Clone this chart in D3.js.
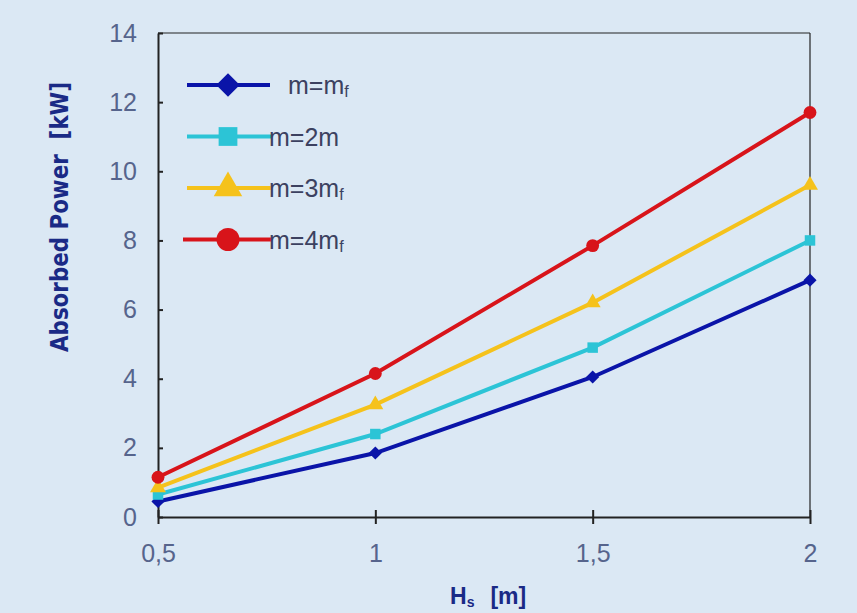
<!DOCTYPE html>
<html>
<head>
<meta charset="utf-8">
<script src="https://cdn.jsdelivr.net/npm/d3@7"></script>
<style>
  body { margin: 0; background: #dbe8f4; }
  svg { display: block; }
</style>
</head>
<body>
<div id="chart"></div>
<script>
// donnees
const hs = [0.5, 1, 1.5, 2];
const mF = [0.45, 1.85, 4.05, 6.85];
const m2 = [0.65, 2.4, 4.9, 8.0];
const m3 = [0.85, 3.25, 6.2, 9.6];
const m4 = [1.15, 4.15, 7.85, 11.7];
const yTicks = [0, 2, 4, 6, 8, 10, 12, 14];
const xTickLabels = ["0,5", "1", "1,5", "2"];

const series = [
  { name: "m=m", sub: "f", values: mF, color: "#0a14a8", shape: d3.symbolDiamond2, size: 110 },
  { name: "m=2m", sub: "", values: m2, color: "#2cc4d6", shape: d3.symbolSquare, size: 110 },
  { name: "m=3m", sub: "f", values: m3, color: "#f5c21b", shape: d3.symbolTriangle, size: 110 },
  { name: "m=4m", sub: "f", values: m4, color: "#d8141a", shape: d3.symbolCircle, size: 130 }
];

const W = 857, H = 613;
const margin = { top: 33, right: 47, bottom: 96, left: 158 };
const width = W - margin.left - margin.right;
const height = H - margin.top - margin.bottom;

const svg = d3.select("#chart").append("svg")
  .attr("width", W).attr("height", H);

svg.append("rect").attr("width", W).attr("height", H).attr("fill", "#dbe8f4");

const g = svg.append("g")
  .attr("transform", `translate(${margin.left},${margin.top})`);

const x = d3.scaleLinear().domain([0.5, 2]).range([0, width]);
const y = d3.scaleLinear().domain([0, 14]).range([height, 0]);

// cadre haut et droite
g.append("line").attr("x1", 0).attr("x2", width).attr("y1", 0).attr("y2", 0)
  .attr("stroke", "#222").attr("stroke-width", 1.2);
g.append("line").attr("x1", width).attr("x2", width).attr("y1", 0).attr("y2", height)
  .attr("stroke", "#222").attr("stroke-width", 1.2);

// axes
const xAxis = g.append("g")
  .attr("transform", `translate(0,${height})`)
  .call(d3.axisBottom(x).tickValues(hs).tickFormat((d, i) => xTickLabels[i])
    .tickSizeInner(7).tickSizeOuter(0).tickPadding(20));
xAxis.selectAll(".tick line").attr("y1", -7);

const yAxis = g.append("g")
  .call(d3.axisLeft(y).tickValues(yTicks).tickSizeInner(6).tickSizeOuter(0).tickPadding(15));
yAxis.selectAll(".tick line").attr("x2", 5);

g.selectAll(".domain").attr("stroke", "#222").attr("stroke-width", 2);
g.selectAll(".tick line").attr("stroke", "#222").attr("stroke-width", 2);
g.selectAll(".tick text")
  .attr("fill", "#56648c")
  .style("font-family", "'Liberation Sans', Arial, sans-serif")
  .style("font-size", "25px");

// courbes
const line = d3.line()
  .x((d, i) => x(hs[i]))
  .y(d => y(d));

series.forEach(s => {
  g.append("path")
    .datum(s.values)
    .attr("fill", "none")
    .attr("stroke", s.color)
    .attr("stroke-width", 4)
    .attr("d", line);
});

series.forEach(s => {
  g.selectAll(null)
    .data(s.values)
    .join("path")
    .attr("transform", (d, i) => `translate(${x(hs[i])},${y(d)})`)
    .attr("d", d3.symbol().type(s.shape).size(s.size))
    .attr("fill", s.color);
});

// legende
const legend = g.append("g").attr("transform", "translate(29,52)");
series.forEach((s, i) => {
  const row = legend.append("g").attr("transform", `translate(0,${i * 51.5})`);
  row.append("line").attr("x1", i === 3 ? -4 : 0).attr("x2", i === 0 ? 83 : 84)
    .attr("stroke", s.color).attr("stroke-width", 4);
  row.append("path")
    .attr("transform", "translate(41,0)")
    .attr("d", d3.symbol().type(s.shape).size(s.size * 3.2))
    .attr("fill", s.color);
  const t = row.append("text")
    .attr("x", i === 0 ? 101 : 82).attr("y", 9)
    .attr("fill", "#3c4160")
    .style("font-family", "'Liberation Sans', Arial, sans-serif")
    .style("font-size", "25px")
    .text(s.name);
  if (s.sub) {
    t.append("tspan").attr("dy", 3).style("font-size", "16px").text(s.sub);
  }
});

// titres des axes
svg.append("text")
  .attr("transform", `translate(68,217) rotate(-90)`)
  .attr("text-anchor", "middle")
  .attr("fill", "#1a2a86")
  .attr("textLength", 270)
  .attr("lengthAdjust", "spacingAndGlyphs")
  .style("white-space", "pre")
  .style("font-family", "'DejaVu Sans', sans-serif")
  .style("font-stretch", "condensed")
  .style("font-size", "25px")
  .style("font-weight", "bold")
  .text("Absorbed Power  [kW]");

const xt = svg.append("text")
  .attr("x", 450).attr("y", 604)
  .attr("fill", "#1a2a86")
  .style("font-family", "'Liberation Sans', Arial, sans-serif")
  .style("font-size", "23px")
  .style("font-weight", "bold");
xt.append("tspan").text("H");
xt.append("tspan").attr("dy", 3).style("font-size", "14px").text("s");
xt.append("tspan").attr("dy", -3).attr("dx", 16).text("[m]");
</script>
</body>
</html>
